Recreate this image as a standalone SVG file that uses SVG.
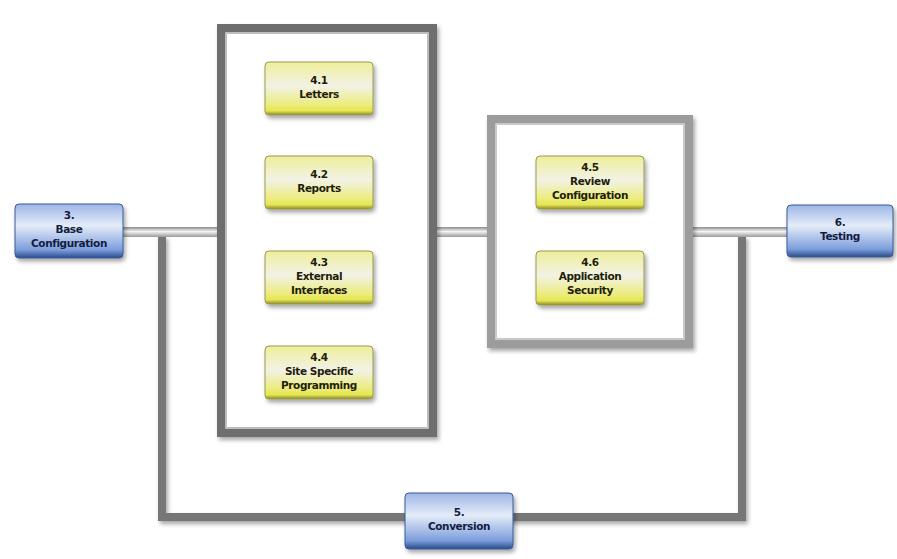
<svg xmlns="http://www.w3.org/2000/svg" width="897" height="559" viewBox="0 0 897 559">
<defs>
<linearGradient id="gy" x1="0" y1="0" x2="0" y2="1">
<stop offset="0" stop-color="#eeee9a"/>
<stop offset="0.45" stop-color="#f2f2e6"/>
<stop offset="0.8" stop-color="#ecec80"/>
<stop offset="0.92" stop-color="#e6e650"/>
<stop offset="1" stop-color="#8a8a30"/>
</linearGradient>
<linearGradient id="gb" x1="0" y1="0" x2="0" y2="1">
<stop offset="0" stop-color="#9db6e6"/>
<stop offset="0.4" stop-color="#e4ecf8"/>
<stop offset="0.85" stop-color="#7c9ddc"/>
<stop offset="1" stop-color="#2a4a8a"/>
</linearGradient>
<linearGradient id="pipe" x1="0" y1="0" x2="0" y2="1">
<stop offset="0" stop-color="#8a8a8a"/>
<stop offset="0.45" stop-color="#f4f4f4"/>
<stop offset="1" stop-color="#9a9a9a"/>
</linearGradient>
<filter id="sh" x="-10%" y="-10%" width="130%" height="140%">
<feDropShadow dx="2" dy="3" stdDeviation="2" flood-color="#000" flood-opacity="0.35"/>
</filter>
<style>
.t{font-family:"DejaVu Sans",Verdana,sans-serif;font-weight:bold;font-size:10.5px;text-anchor:middle;letter-spacing:-0.4px}
.ty{fill:#1e1e0a}
.tb{fill:#141c40}
.ny{fill:url(#gy);stroke:#9a9a50;stroke-width:1}
.nb{fill:url(#gb);stroke:#3a5a9a;stroke-width:1}
.loop{fill:none;stroke:#777;stroke-width:8}
.frame1{fill:#fff;stroke:#6e6e6e;stroke-width:10}
.frame2{fill:#fff;stroke:#9c9c9c;stroke-width:10}
.hl{fill:none;stroke:#d8d8d8;stroke-width:1.5}
</style>
</defs>
<rect width="897" height="559" fill="#fff"/>
<g id="connectors">
<path class="loop" d="M162 236 V517 H742 V236" filter="url(#sh)"/>
<rect x="123" y="227" width="96" height="10" fill="url(#pipe)"/>
<rect x="435" y="227" width="54" height="10" fill="url(#pipe)"/>
<rect x="691" y="227" width="96" height="10" fill="url(#pipe)"/>
</g>
<g id="group1">
<rect class="frame1" x="222" y="29" width="210" height="403" filter="url(#sh)"/>
<rect class="hl" x="226" y="33" width="202" height="395"/>
</g>
<g id="group2">
<rect class="frame2" x="492" y="120" width="196" height="223" filter="url(#sh)"/>
<rect class="hl" x="496" y="124" width="188" height="215" stroke="#e4e4e4"/>
</g>
<g id="n41">
<rect class="ny" x="265" y="62" width="108" height="53" rx="4" filter="url(#sh)"/>
<text class="t ty" x="319" y="84">4.1</text>
<text class="t ty" x="319" y="98">Letters</text>
</g>
<g id="n42">
<rect class="ny" x="265" y="156" width="108" height="53" rx="4" filter="url(#sh)"/>
<text class="t ty" x="319" y="178">4.2</text>
<text class="t ty" x="319" y="192">Reports</text>
</g>
<g id="n43">
<rect class="ny" x="265" y="251" width="108" height="53" rx="4" filter="url(#sh)"/>
<text class="t ty" x="319" y="266">4.3</text>
<text class="t ty" x="319" y="280">External</text>
<text class="t ty" x="319" y="294">Interfaces</text>
</g>
<g id="n44">
<rect class="ny" x="265" y="346" width="108" height="53" rx="4" filter="url(#sh)"/>
<text class="t ty" x="319" y="361">4.4</text>
<text class="t ty" x="319" y="375">Site Specific</text>
<text class="t ty" x="319" y="389">Programming</text>
</g>
<g id="n45">
<rect class="ny" x="536" y="156" width="108" height="53" rx="4" filter="url(#sh)"/>
<text class="t ty" x="590" y="171">4.5</text>
<text class="t ty" x="590" y="185">Review</text>
<text class="t ty" x="590" y="199">Configuration</text>
</g>
<g id="n46">
<rect class="ny" x="536" y="251" width="108" height="54" rx="4" filter="url(#sh)"/>
<text class="t ty" x="590" y="266">4.6</text>
<text class="t ty" x="590" y="280">Application</text>
<text class="t ty" x="590" y="294">Security</text>
</g>
<g id="n3">
<rect class="nb" x="15" y="204" width="108" height="54" rx="4" filter="url(#sh)"/>
<text class="t tb" x="69" y="219">3.</text>
<text class="t tb" x="69" y="233">Base</text>
<text class="t tb" x="69" y="247">Configuration</text>
</g>
<g id="n6">
<rect class="nb" x="787" y="205" width="106" height="52" rx="4" filter="url(#sh)"/>
<text class="t tb" x="840" y="226">6.</text>
<text class="t tb" x="840" y="240">Testing</text>
</g>
<g id="n5">
<rect class="nb" x="405" y="493" width="108" height="56" rx="4" filter="url(#sh)"/>
<text class="t tb" x="459" y="516">5.</text>
<text class="t tb" x="459" y="530">Conversion</text>
</g>
</svg>
